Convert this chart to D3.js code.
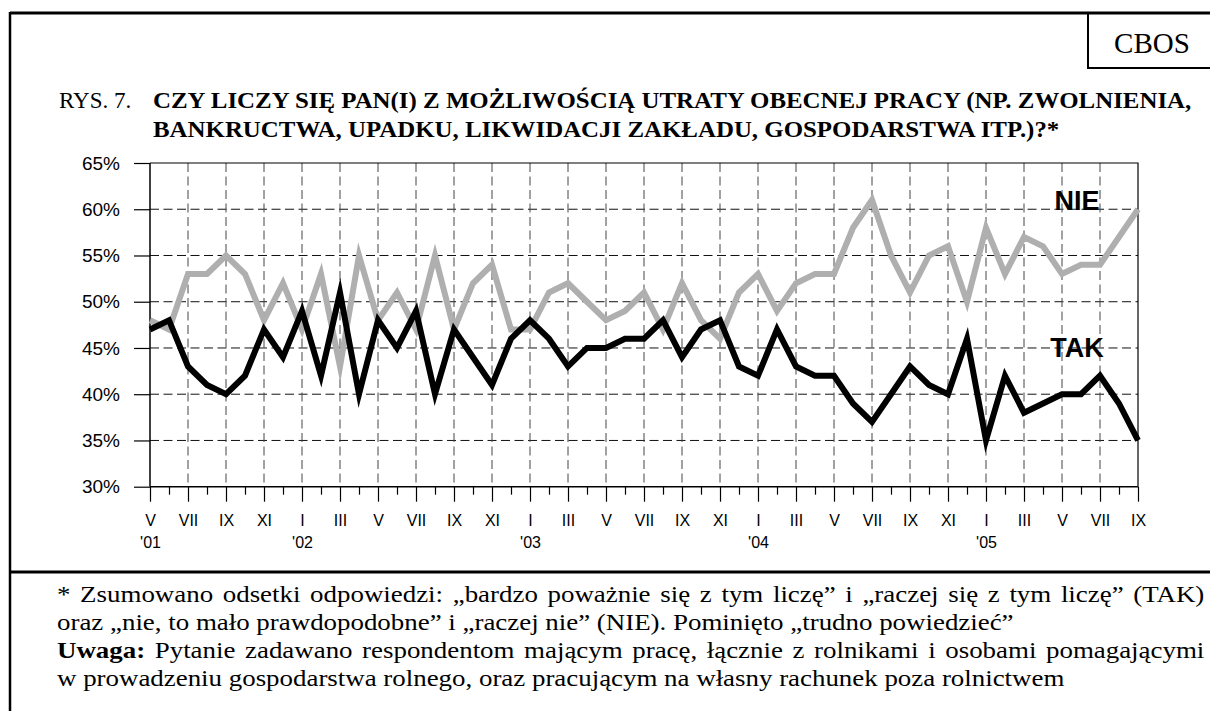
<!DOCTYPE html>
<html>
<head>
<meta charset="utf-8">
<script src="https://cdnjs.cloudflare.com/ajax/libs/d3/7.8.5/d3.min.js"></script>
<style>
	body { margin: 0; background: #fff; }
	svg { display: block; }
	.serif { font-family: "Liberation Serif", "Times New Roman", serif; }
	.sans { font-family: "Liberation Sans", Arial, sans-serif; }
</style>
</head>
<body>
<svg id="chart" width="1210" height="711"></svg>
<script>
// monthly survey results, V 2001 .. IX 2005
var tak = [47, 48, 43, 41, 40, 42, 47, 44, 49, 42, 51, 40,
	48, 45, 49, 40, 47, 44, 41, 46, 48, 46, 43, 45,
	45, 46, 46, 48, 44, 47, 48, 43, 42, 47, 43, 42,
	42, 39, 37, 40, 43, 41, 40, 46, 35, 42, 38, 39,
	40, 40, 42, 39, 35];
var nie = [48, 47, 53, 53, 55, 53, 48, 52, 47, 53, 43, 55,
	48, 51, 47, 55, 47, 52, 54, 47, 47, 51, 52, 50,
	48, 49, 51, 47, 52, 48, 46, 51, 53, 49, 52, 53,
	53, 58, 61, 55, 51, 55, 56, 50, 58, 53, 57, 56,
	53, 54, 54, 57, 60];

// tick labels, one every second month
var tickLabels = ["V", "VII", "IX", "XI", "I", "III", "V", "VII", "IX", "XI", "I", "III",
	"V", "VII", "IX", "XI", "I", "III", "V", "VII", "IX", "XI", "I", "III", "V", "VII", "IX"];
var yearLabels = ["'01", "", "", "", "'02", "", "", "", "", "", "'03", "", "",
	"", "", "", "'04", "", "", "", "", "", "'05", "", "", "", ""];
var yTicks = [30, 35, 40, 45, 50, 55, 60, 65];

var titleLines = ["CZY LICZY SIĘ PAN(I) Z MOŻLIWOŚCIĄ UTRATY OBECNEJ PRACY (NP. ZWOLNIENIA,",
	"BANKRUCTWA, UPADKU, LIKWIDACJI ZAKŁADU, GOSPODARSTWA ITP.)?*"];

var svg = d3.select("#chart");

// frame
svg.append("line").attr("x1", 10).attr("x2", 1210).attr("y1", 13).attr("y2", 13)
	.attr("stroke", "#000").attr("stroke-width", 3);
svg.append("line").attr("x1", 10).attr("x2", 10).attr("y1", 12).attr("y2", 711)
	.attr("stroke", "#000").attr("stroke-width", 2.5);
svg.append("line").attr("x1", 10).attr("x2", 1210).attr("y1", 572).attr("y2", 572)
	.attr("stroke", "#000").attr("stroke-width", 3);

// CBOS box
svg.append("path").attr("d", "M1088,13V68H1210").attr("fill", "none")
	.attr("stroke", "#000").attr("stroke-width", 2);
svg.append("text").attr("class", "serif").attr("x", 1152).attr("y", 53)
	.attr("text-anchor", "middle").attr("font-size", 29).text("CBOS");

// text line drawn a little wider than the font, like the scanned document
function textLine(x0, yPos, size, parts, sx, right) {
	var g = svg.append("g").attr("transform", "translate(" + x0 + "," + yPos + ")");
	var t = g.append("text").attr("class", "serif").attr("font-size", size);
	parts.forEach(function(p) {
		t.append("tspan").attr("font-weight", p.bold ? "bold" : null).text(p.text);
	});
	var w = t.node().getComputedTextLength();
	if (right) {
		// justify to the right edge
		var full = parts.map(function(p) { return p.text; }).join("");
		var gaps = full.split(" ").length - 1;
		var extra = ((right - x0) / sx - w) / gaps;
		if (extra > 0) t.style("word-spacing", extra + "px");
	}
	g.attr("transform", "translate(" + x0 + "," + yPos + ") scale(" + sx + ",1)");
	return w;
}

// title
textLine(59, 108, 23, [{text: "RYS. 7."}], 1.0);
var titleW = 0;
var tmp = svg.append("text").attr("class", "serif").attr("font-size", 23).attr("font-weight", "bold")
	.text(titleLines[0]);
titleW = tmp.node().getComputedTextLength();
tmp.remove();
var titleSx = (1192 - 153) / titleW;
titleLines.forEach(function(l, i) {
	textLine(153, 108 + i * 29, 23, [{text: l, bold: true}], titleSx);
});

// scales
var x = d3.scaleLinear().domain([0, tak.length - 1]).range([150, 1138]);
var y = d3.scaleLinear().domain([30, 65]).range([486.7, 163]);

var major = d3.range(0, tak.length, 2);
var minor = d3.range(1, tak.length, 2);

// grid
var grid = svg.append("g");
grid.selectAll("line.h").data(yTicks.slice(1, -1)).enter().append("line")
	.attr("x1", x(0)).attr("x2", x(tak.length - 1))
	.attr("y1", function(d) { return y(d); }).attr("y2", function(d) { return y(d); })
	.attr("stroke", "#111").attr("stroke-dasharray", "9,4.5");
grid.selectAll("line.v").data(major.slice(1, -1)).enter().append("line")
	.attr("x1", function(d) { return x(d); }).attr("x2", function(d) { return x(d); })
	.attr("y1", y(65)).attr("y2", y(30))
	.attr("stroke", "#444").attr("stroke-dasharray", "9,4.5");

// plot border top + right
svg.append("path")
	.attr("d", "M" + x(0) + "," + y(65) + "H" + x(tak.length - 1) + "V" + y(30))
	.attr("fill", "none").attr("stroke", "#000").attr("stroke-width", 1.2);

// axes
var yAxis = svg.append("g").attr("class", "sans")
	.attr("transform", "translate(" + x(0) + ",0)")
	.call(d3.axisLeft(y).tickValues(yTicks).tickSize(16).tickPadding(14)
		.tickFormat(function(d) { return d + "%"; }));

var xAxis = svg.append("g").attr("class", "sans")
	.attr("transform", "translate(0," + y(30) + ")")
	.call(d3.axisBottom(x).tickValues(major).tickSize(15).tickPadding(13)
		.tickFormat(function(d) { return tickLabels[d / 2]; }));

var xMinor = svg.append("g")
	.attr("transform", "translate(0," + y(30) + ")")
	.call(d3.axisBottom(x).tickValues(minor).tickSize(8).tickFormat(""));

[yAxis, xAxis, xMinor].forEach(function(g) {
	g.select(".domain").remove();
	g.selectAll(".tick line").attr("stroke", "#000").attr("stroke-width", 1.2);
	g.selectAll("text").attr("fill", "#000").attr("font-family", null);
});
yAxis.attr("font-size", 19);
xAxis.attr("font-size", 16);

// year labels under the month ticks
xAxis.selectAll(".tick").append("text")
	.attr("fill", "#000")
	.attr("y", 61)
	.text(function(d) { return yearLabels[d / 2]; });

// axis lines
svg.append("line").attr("x1", x(0)).attr("x2", x(0)).attr("y1", y(65)).attr("y2", y(30))
	.attr("stroke", "#000").attr("stroke-width", 1.5);
svg.append("line").attr("x1", x(0)).attr("x2", x(tak.length - 1)).attr("y1", y(30)).attr("y2", y(30))
	.attr("stroke", "#000").attr("stroke-width", 1.5);

// series
var line = d3.line()
	.x(function(d, i) { return x(i); })
	.y(function(d) { return y(d); });

svg.append("path").datum(nie).attr("d", line)
	.attr("fill", "none").attr("stroke", "#afafaf").attr("stroke-width", 6)
	.attr("stroke-linejoin", "miter").attr("stroke-miterlimit", 10);
svg.append("path").datum(tak).attr("d", line)
	.attr("fill", "none").attr("stroke", "#000").attr("stroke-width", 6)
	.attr("stroke-linejoin", "miter").attr("stroke-miterlimit", 10);

// series labels
svg.append("text").attr("class", "sans").attr("x", 1077).attr("y", 210)
	.attr("text-anchor", "middle").attr("font-size", 27).attr("font-weight", "bold").text("NIE");
svg.append("text").attr("class", "sans").attr("x", 1077).attr("y", 357)
	.attr("text-anchor", "middle").attr("font-size", 27).attr("font-weight", "bold").text("TAK");

// notes
var noteSx = 1.17;
textLine(57, 602, 23, [{text: "* Zsumowano odsetki odpowiedzi: „bardzo poważnie się z tym liczę” i „raczej się z tym liczę” (TAK)"}], noteSx, 1205);
textLine(57, 630, 23, [{text: "oraz „nie, to mało prawdopodobne” i „raczej nie” (NIE). Pominięto „trudno powiedzieć”"}], noteSx);
textLine(57, 658, 23, [{text: "Uwaga:", bold: true}, {text: " Pytanie zadawano respondentom mającym pracę, łącznie z rolnikami i osobami pomagającymi"}], noteSx, 1205);
textLine(57, 686, 23, [{text: "w prowadzeniu gospodarstwa rolnego, oraz pracującym na własny rachunek poza rolnictwem"}], noteSx);
</script>
</body>
</html>
